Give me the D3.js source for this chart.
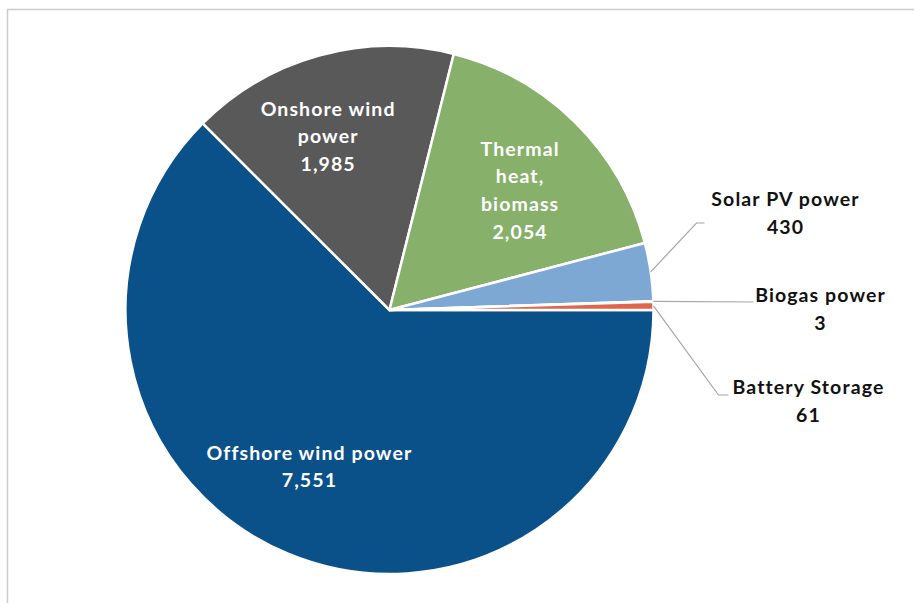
<!DOCTYPE html>
<html>
<head>
<meta charset="utf-8">
<script src="https://cdn.jsdelivr.net/npm/d3@7"></script>
<style>
  html, body { margin: 0; padding: 0; background: #fff; }
  svg { display: block; }
  text { font-family: Lato, "Open Sans", sans-serif; font-weight: bold; letter-spacing: 1.1px; }
</style>
</head>
<body>
<svg id="chart"></svg>
<script>
// data, in slice order (clockwise from 3 o'clock)
const names = ['Offshore wind power', 'Onshore wind power', 'Thermal heat, biomass', 'Solar PV power', 'Biogas power', 'Battery Storage'];
const values = [7551, 1985, 2054, 430, 3, 61];
const labelLines = [
    ['Offshore wind power'],
    ['Onshore wind', 'power'],
    ['Thermal', 'heat,', 'biomass'],
    ['Solar PV power'],
    ['Biogas power'],
    ['Battery Storage']
];
const colors = ['#0b5189', '#595959', '#87b06b', '#7ea8d4', '#d9d9d9', '#e0654d'];

const width = 914;
const height = 603;
const cx = 389.5, cy = 310, radius = 264;
const lineH = 27.8;

// where the label goes: inside (on the slice) or outside with a leader line
const layout = [
    { inside: true, r: 176, dAngle: 0.08 },
    { inside: true, r: 184, dAngle: -0.07 },
    { inside: true, r: 177, dAngle: 0.05 },
    { inside: false, tx: 396, ty: -96.5, elbow: [307, -87], end: [315, -87] },
    { inside: false, tx: 431, ty: -0.5, elbow: null, end: [364, -8] },
    { inside: false, tx: 419, ty: 91.5, elbow: [329, 85], end: [339, 85] }
];

const svg = d3.select('#chart')
    .attr('width', width)
    .attr('height', height);

// chart frame
svg.append('rect')
    .attr('x', 7.5).attr('y', 9.5)
    .attr('width', 920).attr('height', 620)
    .attr('fill', 'none')
    .attr('stroke', '#cccccc')
    .attr('stroke-width', 1.5);

const g = svg.append('g').attr('transform', `translate(${cx},${cy})`);

const pie = d3.pie()
    .sort(null)
    .value(d => d)
    .startAngle(Math.PI / 2)
    .endAngle(Math.PI / 2 + 2 * Math.PI);

const arcs = pie(values);

const arc = d3.arc().innerRadius(0).outerRadius(radius);

g.selectAll('path.slice')
    .data(arcs)
    .join('path')
    .attr('class', 'slice')
    .attr('d', arc)
    .attr('fill', (d, i) => colors[i])
    .attr('stroke', '#fff')
    .attr('stroke-width', 2.5)
    .attr('stroke-linejoin', 'round');

const fmt = d3.format(',');

arcs.forEach((d, i) => {
    const L = layout[i];
    const lines = labelLines[i].concat([fmt(values[i])]);
    const mid = (d.startAngle + d.endAngle) / 2;
    let x, y, fill;
    if (L.inside) {
        const a = mid + L.dAngle;
        x = Math.sin(a) * L.r;
        y = -Math.cos(a) * L.r;
        fill = '#ffffff';
    } else {
        x = L.tx;
        y = L.ty;
        fill = '#111111';
        // leader line from the slice edge
        const p0 = [Math.sin(mid) * radius, -Math.cos(mid) * radius];
        const pts = [p0];
        if (L.elbow) pts.push(L.elbow);
        pts.push(L.end);
        g.append('path')
            .attr('d', d3.line()(pts))
            .attr('fill', 'none')
            .attr('stroke', '#a6a6a6')
            .attr('stroke-width', 1.2);
    }
    const top = y - (lines.length - 1) * lineH / 2;
    const t = g.append('text')
        .attr('text-anchor', 'middle')
        .attr('fill', fill)
        .attr('font-size', 19.5);
    lines.forEach((s, k) => {
        t.append('tspan')
            .attr('x', x)
            .attr('y', top + k * lineH)
            .attr('dy', '0.35em')
            .text(s);
    });
});
</script>
</body>
</html>
